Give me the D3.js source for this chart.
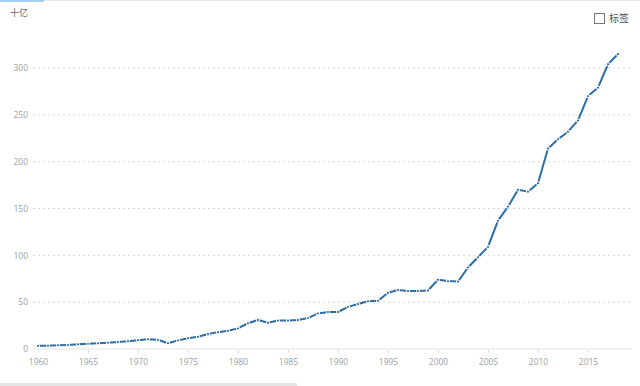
<!DOCTYPE html>
<html>
<head>
<meta charset="utf-8">
<script src="https://cdn.jsdelivr.net/npm/d3@7"></script>
<style>
  body { margin: 0; background: #fff; }
  svg { display: block; font-family: "Noto Sans CJK SC", "Open Sans", sans-serif; }
</style>
</head>
<body>
<div id="chart"></div>
<script>
// data (billions)
var years = d3.range(1960, 2019);
var values = [
  3.5, 3.6, 4.0, 4.4, 5.0, 5.5, 6.2, 6.8, 7.5, 8.2,
  9.3, 10.5, 9.8, 6.2, 9.2, 11.5, 13.0, 16.0, 18.0, 19.5,
  22.0, 27.5, 31.0, 28.0, 30.5, 30.5, 31.0, 33.0, 38.0, 39.5,
  39.5, 45.0, 48.0, 51.0, 51.5, 60.0, 63.0, 62.0, 62.0, 62.5,
  74.0, 72.5, 72.0, 87.0, 98.0, 109.0, 137.0, 152.0, 170.0, 168.0,
  177.0, 214.0, 224.0, 232.0, 244.0, 270.0, 279.0, 304.0, 315.0
];
var yTicks = [0, 50, 100, 150, 200, 250, 300];
var xTicks = [1960, 1965, 1970, 1975, 1980, 1985, 1990, 1995, 2000, 2005, 2010, 2015];
var unitLabel = "十亿";
var legendLabel = "标签";

var data = years.map(function(y, i) { return {year: y, value: values[i]}; });

var width = 640, height = 386;
var svg = d3.select("#chart")
  .append("svg")
    .attr("width", width)
    .attr("height", height);

// scales
var x = d3.scaleLinear()
  .domain([1960, 2018])
  .range([38, 618]);
var y = d3.scaleLinear()
  .domain([0, 300])
  .range([349, 68]);

// top strip
svg.append("rect")
  .attr("x", 0).attr("y", 0).attr("width", width).attr("height", 1)
  .attr("fill", "#e9e9e9");
svg.append("rect")
  .attr("x", 0).attr("y", 0).attr("width", 44).attr("height", 2)
  .attr("fill", "#9fd0ee");

// grid lines
svg.append("g")
  .selectAll("line")
  .data(yTicks.filter(function(d) { return d > 0; }))
  .enter()
  .append("line")
    .attr("x1", 33)
    .attr("x2", 632)
    .attr("y1", function(d) { return y(d); })
    .attr("y2", function(d) { return y(d); })
    .attr("stroke", "#d8d8d8")
    .attr("stroke-dasharray", "2,3");

// baseline
svg.append("line")
  .attr("x1", 33).attr("x2", 632)
  .attr("y1", y(0)).attr("y2", y(0))
  .attr("stroke", "#e3e3e3");

// y axis labels
var yAxis = svg.append("g")
  .attr("transform", "translate(28,0)")
  .call(d3.axisLeft(y).tickValues(yTicks).tickSize(0).tickPadding(0));
yAxis.select(".domain").remove();
yAxis.selectAll("text")
  .attr("fill", "#a0a0a0")
  .style("font-size", "8.5px")
  .style("font-family", "'Open Sans', sans-serif");

// x axis
var xAxis = svg.append("g")
  .attr("transform", "translate(0," + (y(0) + 1) + ")")
  .call(d3.axisBottom(x).tickValues(xTicks).tickFormat(d3.format("d")).tickSize(3).tickPadding(6));
xAxis.select(".domain").remove();
xAxis.selectAll("line").attr("stroke", "#dddddd");
xAxis.selectAll("text")
  .attr("fill", "#a0a0a0")
  .style("font-size", "8.5px")
  .style("font-family", "'Open Sans', sans-serif");

// line
var line = d3.line()
  .x(function(d) { return x(d.year); })
  .y(function(d) { return y(d.value); });

svg.append("path")
  .datum(data)
  .attr("fill", "none")
  .attr("stroke", "#2a6fa8")
  .attr("stroke-width", 2)
  .attr("stroke-linejoin", "round")
  .attr("d", line);

svg.append("g")
  .selectAll("circle")
  .data(data)
  .enter()
  .append("circle")
    .attr("cx", function(d) { return x(d.year); })
    .attr("cy", function(d) { return y(d.value); })
    .attr("r", 1.5)
    .attr("fill", "#1b4670")
    .attr("stroke", "#ffffff")
    .attr("stroke-width", 1.1);

// unit label
svg.append("text")
  .attr("x", 10).attr("y", 16)
  .attr("fill", "#666")
  .style("font-size", "9px")
  .text(unitLabel);

// legend checkbox
svg.append("rect")
  .attr("x", 594.5).attr("y", 13.5).attr("width", 10).attr("height", 10)
  .attr("fill", "#fff")
  .attr("stroke", "#777");
svg.append("text")
  .attr("x", 609).attr("y", 22)
  .attr("fill", "#555")
  .style("font-size", "10px")
  .text(legendLabel);

// bottom scroll strip
svg.append("rect")
  .attr("x", 0).attr("y", 383).attr("width", 297).attr("height", 3)
  .attr("fill", "#e6e6e6");
</script>
</body>
</html>
